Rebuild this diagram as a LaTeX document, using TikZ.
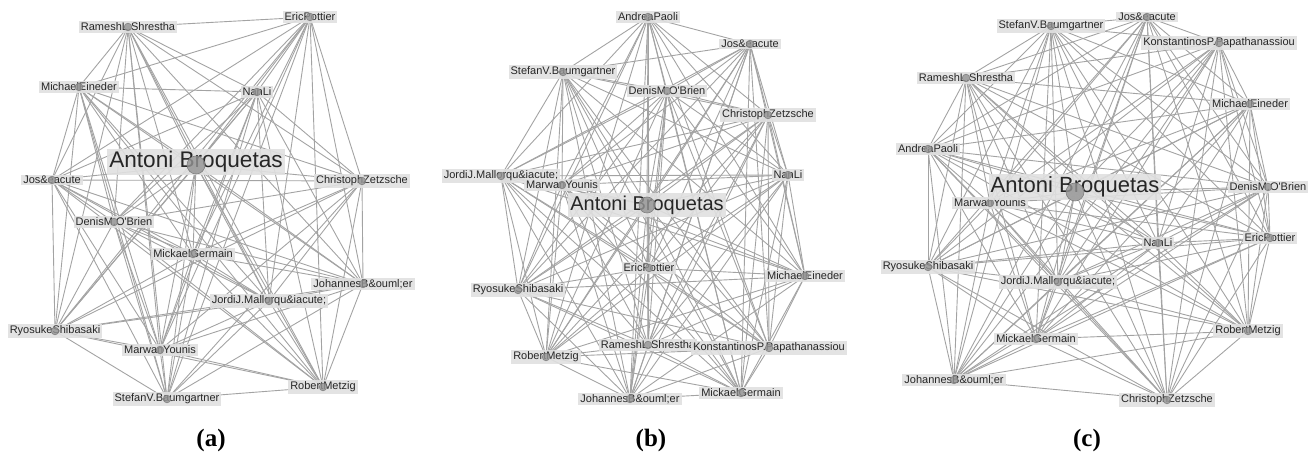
\documentclass[tikz,border=0pt]{standalone}
\usepackage{fontspec}
\setmainfont{Liberation Serif}
\newfontfamily\netfont{Liberation Sans}
\usetikzlibrary{backgrounds}
\tikzset{
  net/edge/.style={draw=black!36, line width=0.45pt},
  net/label/.style={fill=black!12, fill opacity=0.9, text opacity=1, text=black!85, inner xsep=1pt, inner ysep=0.8pt, font=\netfont\fontsize{5.5}{6}\selectfont},
  net/hublabel/.style={net/label, inner ysep=1.4pt, font=\netfont\fontsize{#1}{#1}\selectfont},
  net/dot/.style={circle, fill=black!42, fill opacity=0.8, draw=black!50, line width=0.3pt, inner sep=0pt, minimum size=3.8pt},
  net/hub/.style={net/dot, minimum size=#1},
  net/caption/.style={font=\bfseries\fontsize{12.5}{14}\selectfont}
}

\begin{document}
\begin{tikzpicture}[x=0.5pt, y=-0.5pt]
  \useasboundingbox (0,0) rectangle (1315,458);

  % (a)
  \foreach \x/\y/\name [count=\n] in {128/27/RameshL.Shrestha, 310/17/EricPottier,
      79/87/MichaelEineder, 257/92/NanLi, 52/180/Jos\&eacute, 362/181/ChristophZetzsche,
      114/222/DenisM.O'Brien, 193/254/MickaelGermain, 363/284/JohannesB\&ouml;er,
      269/301/{JordiJ.Mallorqu\&iacute;}, 55/331/RyosukeShibasaki, 160/350/MarwanYounis,
      167/399/StefanV.Baumgartner, 323/387/RobertMetzig} {
    \node[net/label] at (\x,\y) {\name};
    \node[net/dot] (a-\n) at (\x,\y) {};
  }
  \node[net/hublabel=11.3] at (196,162) {Antoni Broquetas};
  \node[net/hub=9pt] (a-0) at (196,165) {};
  \begin{pgfonlayer}{background}
    \foreach \i in {0,...,14}
      \foreach \j in {\i,...,14} {\ifnum\i<\j \draw[net/edge] (a-\i.center) -- (a-\j.center);\fi}
  \end{pgfonlayer}

  % (b)
  \foreach \x/\y/\name [count=\n] in {648/17/AndreaPaoli, 750/44/Jos\&eacute,
      563/72/StefanV.Baumgartner, 667/91/DenisM.O'Brien, 768/115/ChristophZetzsche,
      501/176/{JordiJ.Mallorqu\&iacute;}, 788/175/NanLi, 562/185/MarwanYounis,
      649/268/EricPottier, 805/276/MichaelEineder, 518/290/RyosukeShibasaki,
      648/345/RameshL.Shrestha, 769/348/KonstantinosP.Papathanassiou, 546/357/RobertMetzig,
      630/399/JohannesB\&ouml;er, 741/393/MickaelGermain} {
    \node[net/label] at (\x,\y) {\name};
    \node[net/dot] (b-\n) at (\x,\y) {};
  }
  \node[net/hublabel=10] at (647,205) {Antoni Broquetas};
  \node[net/hub=8pt] (b-0) at (647,205) {};
  \begin{pgfonlayer}{background}
    \foreach \i in {0,...,16}
      \foreach \j in {\i,...,16} {\ifnum\i<\j \draw[net/edge] (b-\i.center) -- (b-\j.center);\fi}
  \end{pgfonlayer}

  % (c)
  \foreach \x/\y/\name [count=\n] in {1051/26/StefanV.Baumgartner, 1147/17/Jos\&eacute,
      1219/43/KonstantinosP.Papathanassiou, 966/78/RameshL.Shrestha, 1250/104/MichaelEineder,
      928/149/AndreaPaoli, 1268/187/DenisM.O'Brien, 990/203/MarwanYounis, 1158/243/NanLi,
      1270/238/EricPottier, 928/267/RyosukeShibasaki, 1058/282/{JordiJ.Mallorqu\&iacute;},
      1036/339/MickaelGermain, 1248/331/RobertMetzig, 954/380/JohannesB\&ouml;er,
      1167/400/ChristophZetzsche} {
    \node[net/label] at (\x,\y) {\name};
    \node[net/dot] (c-\n) at (\x,\y) {};
  }
  \node[net/hublabel=11] at (1075,187) {Antoni Broquetas};
  \node[net/hub=9pt] (c-0) at (1075,192) {};
  \begin{pgfonlayer}{background}
    \foreach \i in {0,...,16}
      \foreach \j in {\i,...,16} {\ifnum\i<\j \draw[net/edge] (c-\i.center) -- (c-\j.center);\fi}
  \end{pgfonlayer}

  \node[net/caption] (cap-a) at (211,440) {(a)};
  \node[net/caption] (cap-b) at (651,440) {(b)};
  \node[net/caption] (cap-c) at (1087,440) {(c)};
\end{tikzpicture}
\end{document}
